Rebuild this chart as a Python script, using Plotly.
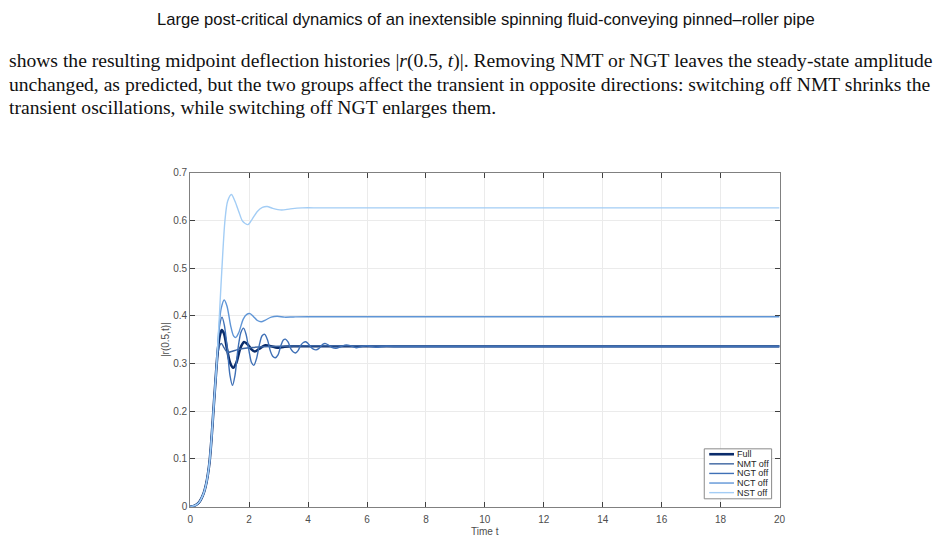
import plotly.graph_objects as go

# ---------------- data ----------------
rise_t = [0.0, 0.15, 0.3, 0.45, 0.55, 0.65, 0.72, 0.8, 0.86, 0.9]
rise_r = [0.0, 0.002, 0.009, 0.027, 0.05, 0.09, 0.14, 0.212, 0.265, 0.3]

full_t = [0.95, 1.0, 1.07, 1.15, 1.25, 1.35, 1.46, 1.57, 1.7, 1.83, 1.95, 2.07, 2.19,
          2.35, 2.55, 2.75, 2.95, 3.2, 3.5, 4.0, 5.0, 20.0]
full_r = [0.335, 0.357, 0.370, 0.362, 0.330, 0.302, 0.291, 0.302, 0.332, 0.345, 0.340,
          0.330, 0.325, 0.331, 0.338, 0.336, 0.333, 0.335, 0.336, 0.336, 0.336, 0.336]

nmt_t = [0.95, 1.0, 1.06, 1.13, 1.22, 1.3, 1.4, 1.6, 1.8, 2.1, 2.5, 3.0, 4.0, 20.0]
nmt_r = [0.325, 0.338, 0.342, 0.335, 0.326, 0.3235, 0.325, 0.329, 0.3315, 0.3335,
         0.335, 0.336, 0.337, 0.337]

ngt_t = [0.95, 1.0, 1.08, 1.16, 1.26, 1.35, 1.435, 1.52, 1.62, 1.72, 1.81, 1.9, 2.0,
         2.08, 2.16, 2.25, 2.35, 2.44, 2.53, 2.62, 2.72, 2.8, 2.89, 2.98, 3.08, 3.16,
         3.23, 3.32, 3.42, 3.5, 3.57, 3.66, 3.75, 3.84, 3.92, 4.0, 4.1, 4.18, 4.27,
         4.36, 4.45, 4.52, 4.6, 4.7, 4.8, 4.95, 5.1, 5.3, 5.45, 5.63, 5.8, 5.97, 6.3,
         6.65, 7.0, 20.0]
ngt_r = [0.345, 0.380, 0.397, 0.380, 0.330, 0.275, 0.254, 0.275, 0.330, 0.365, 0.374,
         0.360, 0.325, 0.302, 0.296, 0.310, 0.340, 0.358, 0.361, 0.350, 0.326, 0.315,
         0.312, 0.318, 0.338, 0.349, 0.351, 0.345, 0.330, 0.324, 0.322, 0.327, 0.338,
         0.344, 0.3456, 0.342, 0.334, 0.330, 0.3285, 0.331, 0.337, 0.341, 0.3415,
         0.338, 0.334, 0.332, 0.335, 0.339, 0.337, 0.333, 0.335, 0.337, 0.334, 0.336,
         0.335, 0.335]

nct_t = [0.97, 1.05, 1.155, 1.25, 1.37, 1.47, 1.55, 1.65, 1.8, 1.92, 2.03, 2.15, 2.28,
         2.41, 2.55, 2.75, 2.95, 3.2, 3.5, 4.0, 20.0]
nct_r = [0.370, 0.415, 0.433, 0.420, 0.380, 0.358, 0.3546, 0.365, 0.393, 0.403, 0.4045,
         0.398, 0.390, 0.3874, 0.391, 0.397, 0.399, 0.397, 0.3975, 0.398, 0.398]

nst_t = [0.99, 1.077, 1.18, 1.27, 1.40, 1.52, 1.65, 1.78, 1.96, 2.1, 2.27, 2.45, 2.61,
         2.8, 3.1, 3.4, 3.8, 4.5, 20.0]
nst_r = [0.40, 0.50, 0.60, 0.640, 0.654, 0.640, 0.618, 0.598, 0.591, 0.602, 0.618,
         0.627, 0.629, 0.625, 0.6215, 0.624, 0.626, 0.626, 0.626]

series_names = ["Full", "NMT off", "NGT off", "NCT off", "NST off"]
series_t = [full_t, nmt_t, ngt_t, nct_t, nst_t]
series_r = [full_r, nmt_r, ngt_r, nct_r, nst_r]
colors = ["#0a2c6b", "#3c64a0", "#3f70b6", "#5f95d6", "#a3cdf5"]
widths = [2.6, 1.4, 1.4, 1.4, 1.4]

x_ticks = [0, 2, 4, 6, 8, 10, 12, 14, 16, 18, 20]
y_ticks = [0, 0.1, 0.2, 0.3, 0.4, 0.5, 0.6, 0.7]
y_tick_text = ["0", "0.1", "0.2", "0.3", "0.4", "0.5", "0.6", "0.7"]
x_title = "Time t"
y_title = "|r(0.5,t)|"

title_text = "Large post-critical dynamics of an inextensible spinning fluid-conveying pinned\u2013roller pipe"
para_lines = [
    "shows the resulting midpoint deflection histories |<i>r</i>(0.5, <i>t</i>)|. Removing NMT or NGT leaves the steady-state amplitude",
    "unchanged, as predicted, but the two groups affect the transient in opposite directions: switching off NMT shrinks the",
    "transient oscillations, while switching off NGT enlarges them.",
]

# ---------------- figure ----------------
W, H = 946, 543
X0, X1, Y0, Y1 = 189, 784, 511, 170  # plot box in page pixels
fig = go.Figure()
for name, t, r, c, w in zip(series_names, series_t, series_r, colors, widths):
    fig.add_trace(go.Scatter(
        x=rise_t + t, y=rise_r + r, mode="lines", name=name, showlegend=False,
        line=dict(color=c, width=w, shape="spline", smoothing=0.8),
    ))

sans = "Liberation Sans, Arial, sans-serif"
ax_font = dict(family=sans, size=10, color="#4d4d4d")
fig.update_layout(
    width=W, height=H, margin=dict(l=0, r=0, t=0, b=0),
    paper_bgcolor="white", plot_bgcolor="white",
    showlegend=False,
    xaxis=dict(
        domain=[X0 / W, X1 / W], range=[0, 20], tickvals=x_ticks,
        ticks="inside", ticklen=5, tickcolor="#404040", showline=True, linecolor="#808080",
        linewidth=1, mirror="ticks", showgrid=True, gridcolor="#ebebeb", zeroline=False,
        tickfont=ax_font, ticklabelstandoff=3,
    ),
    yaxis=dict(
        domain=[(H - Y0) / H, (H - Y1) / H], range=[0, 0.7], tickvals=y_ticks,
        ticktext=y_tick_text,
        ticks="inside", ticklen=5, tickcolor="#404040", showline=True, linecolor="#808080",
        linewidth=1, mirror="ticks", showgrid=True, gridcolor="#ebebeb", zeroline=False,
        tickfont=ax_font,
    ),
)

# axis titles
fig.add_annotation(text=x_title, xref="paper", yref="paper", x=(X0 + X1) / 2 / W,
                   y=1 - 536 / H, xanchor="center", yanchor="middle", showarrow=False,
                   font=ax_font)
fig.add_annotation(text=y_title, xref="paper", yref="paper", x=164 / W,
                   y=1 - (Y0 + Y1) / 2 / H, xanchor="center", yanchor="middle",
                   showarrow=False, textangle=-90, font=ax_font)

# legend box (drawn by hand to match the compact MATLAB legend)
LX0, LX1, LY0, LY1 = 708, 776, 452, 503
fig.add_shape(type="rect", xref="paper", yref="paper", x0=LX0 / W, x1=LX1 / W,
              y0=1 - LY1 / H, y1=1 - LY0 / H, line=dict(color="#8a8a8a", width=1),
              fillcolor="white", layer="above")
for i, (name, c, w) in enumerate(zip(series_names, colors, widths)):
    yy = 1 - (457.5 + 9.8 * i) / H
    fig.add_shape(type="line", xref="paper", yref="paper", x0=713 / W, x1=738 / W,
                  y0=yy, y1=yy, line=dict(color=c, width=w), layer="above")
    fig.add_annotation(text=name, xref="paper", yref="paper", x=739 / W, y=yy,
                       xanchor="left", yanchor="middle", showarrow=False,
                       font=dict(family=sans, size=9, color="#262626"))

fig.add_annotation(
    text=title_text, xref="paper", yref="paper", x=487.5 / W, y=1 - 14 / H,
    xanchor="center", yanchor="middle", showarrow=False,
    font=dict(family=sans, size=16.6, color="#111111"),
)
for i, line in enumerate(para_lines):
    fig.add_annotation(
        text=line, xref="paper", yref="paper", x=4 / W, y=1 - (56 + 24 * i) / H,
        xanchor="left", yanchor="middle", showarrow=False, align="left",
        font=dict(family="Liberation Serif, Times New Roman, serif", size=19.6, color="#111111"),
    )

fig.write_html("out.html")
